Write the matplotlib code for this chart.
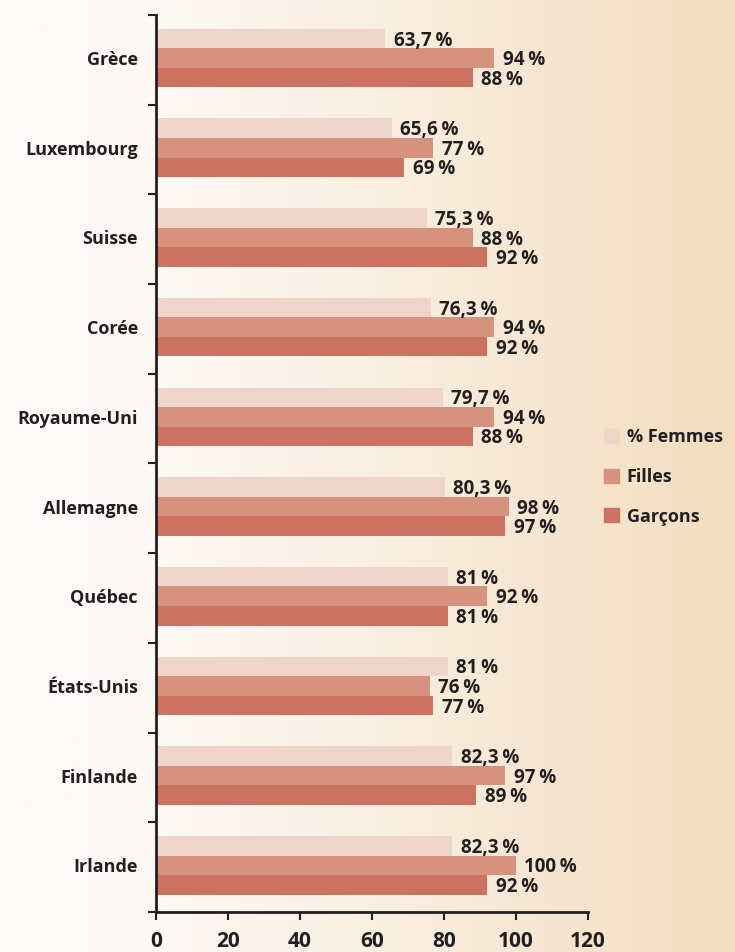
import numpy as np
import matplotlib.pyplot as plt
from matplotlib.patches import Patch

pays = ['Grèce', 'Luxembourg', 'Suisse', 'Corée', 'Royaume-Uni', 'Allemagne',
        'Québec', 'États-Unis', 'Finlande', 'Irlande']
femmes = [63.7, 65.6, 75.3, 76.3, 79.7, 80.3, 81, 81, 82.3, 82.3]
filles = [94, 77, 88, 94, 94, 98, 92, 76, 97, 100]
garcons = [88, 69, 92, 92, 88, 97, 81, 77, 89, 92]
series = ['% Femmes', 'Filles', 'Garçons']
xticks = [0, 20, 40, 60, 80, 100, 120]

colors = ['#eed4c9', '#d7917f', '#cb7260']
txt = '#231f20'

plt.rcParams['font.family'] = ['Open Sans', 'DejaVu Sans']

def fmt(v):
    if float(v).is_integer():
        return f'{int(v)}\u2009%'
    return f'{v:.1f}'.replace('.', ',') + '\u2009%'

fig = plt.figure(figsize=(7.35, 9.52), dpi=100)

# fond dégradé blanc -> beige
bg = fig.add_axes([0, 0, 1, 1], zorder=-10)
w = np.linspace(0, 1, 256)
c0 = np.array([253, 251, 249]) / 255
c1 = np.array([243, 221, 191]) / 255
ramp = np.clip((w - 0.12) / 0.88, 0, 1) ** 1.1
grad = c0[None, :] + (c1 - c0)[None, :] * ramp[:, None]
bg.imshow(grad[None, :, :], aspect='auto', extent=[0, 1, 0, 1])
bg.axis('off')

ax = fig.add_axes([156 / 735, 1 - 912 / 952, (588 - 156) / 735, (912 - 15) / 952])
ax.patch.set_alpha(0)

y = np.arange(len(pays)) - 0.02
h = 0.218
for k, vals in enumerate([femmes, filles, garcons]):
    pos = y + (k - 1) * h
    ax.barh(pos, vals, height=h, color=colors[k], label=series[k])
    for p, v in zip(pos, vals):
        ax.annotate(fmt(v), (v, p), xytext=(6, -1.5), textcoords='offset points',
                    ha='left', va='center', fontsize=13.5, fontweight='bold', color=txt)

ax.set_ylim(len(pays) - 0.5, -0.5)
ax.set_xlim(0, 120)
ax.set_xticks(xticks)
ax.set_xticklabels([str(t) for t in xticks], fontsize=15, fontweight='bold', color=txt)
ax.set_yticks(y)
ax.set_yticklabels(pays, fontsize=13, fontweight='bold', color=txt)
ax.set_yticks(np.arange(len(pays) + 1) - 0.5, minor=True)
ax.tick_params(axis='y', which='major', length=0, pad=13)
ax.tick_params(axis='y', which='minor', length=6, width=1.5, color=txt)
ax.tick_params(axis='x', length=6, width=1.5, color=txt, pad=8)
for s in ['top', 'right']:
    ax.spines[s].set_visible(False)
for s in ['left', 'bottom']:
    ax.spines[s].set_linewidth(2)
    ax.spines[s].set_color(txt)

handles = [Patch(color=colors[k], label=series[k]) for k in range(3)]
leg = fig.legend(handles=handles, loc='center left', bbox_to_anchor=(588 / 735, 1 - 477 / 952),
                 frameon=False, prop={'weight': 'bold', 'size': 13}, handlelength=0.8,
                 handleheight=0.8, handletextpad=0.45, labelspacing=1.2)
for t in leg.get_texts():
    t.set_color(txt)

fig.savefig('out.png', dpi=100)
